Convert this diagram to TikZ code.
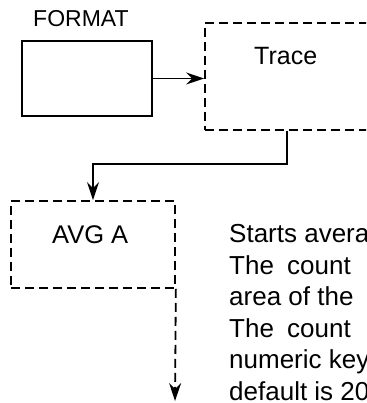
\documentclass[tikz,border=0pt]{standalone}
\usepackage{fontspec}
\setmainfont{Liberation Sans}
\usetikzlibrary{arrows.meta}
\begin{document}
\begin{tikzpicture}[x=1pt,y=-1pt,
  solidbox/.style={draw, line width=2pt, inner sep=0pt},
  dashbox/.style={draw, line width=1.7pt, dash pattern=on 9pt off 5pt, inner sep=0pt},
  conn/.style={line width=1.8pt},
  tip/.style={-{Stealth[length=18pt,width=12pt,inset=6pt]}},
  lbl/.style={anchor=base west, inner sep=0pt},
  body/.style={anchor=base west, inner sep=0pt, font=\fontsize{26}{31}\selectfont}]
\useasboundingbox (0,0) rectangle (366,403);
\clip (0,0) rectangle (366,403);
% boxes
\node[solidbox, minimum width=130pt, minimum height=75pt] (fmt) at (87,78.5) {};
\node[dashbox, minimum width=175pt, minimum height=107pt] (trace) at (292.5,76.5) {};
\node[dashbox, minimum width=164pt, minimum height=87pt] (avg) at (93,244.5) {};
% labels
\node[lbl, font=\fontsize{23}{28}\selectfont] (fmtlbl) at (33,27) {FORMAT};
\node[lbl, font=\fontsize{25}{30}\selectfont] (tracelbl) at (254,65) {Trace};
\node[lbl, font=\fontsize{25.5}{30}\selectfont] (avglbl) at (52,243) {AVG A};
% connectors
\draw[conn, tip] (fmt.east) -- (fmt.east -| trace.west);
\draw[conn, tip] ([xshift=-5.5pt]trace.south) -- ++(0,33) -| (avg.north);
\coordinate (out) at (175,401);
\draw[conn, dash pattern=on 9pt off 5pt, tip] (avg.south east) -- (out);
% description text (cut at the right edge, as in the reference)
\node[body] (t1) at (229,242) {Starts avera};
\node[body] (t2) at (229,274) {The\ \hspace{6pt}count};
\node[body] (t3) at (229,305) {area of the};
\node[body] (t4) at (229,337) {The\ \hspace{6pt}count};
\node[body] (t5) at (229,368) {numeric key};
\node[body] (t6) at (229,400) {default is 20};
\end{tikzpicture}
\end{document}
